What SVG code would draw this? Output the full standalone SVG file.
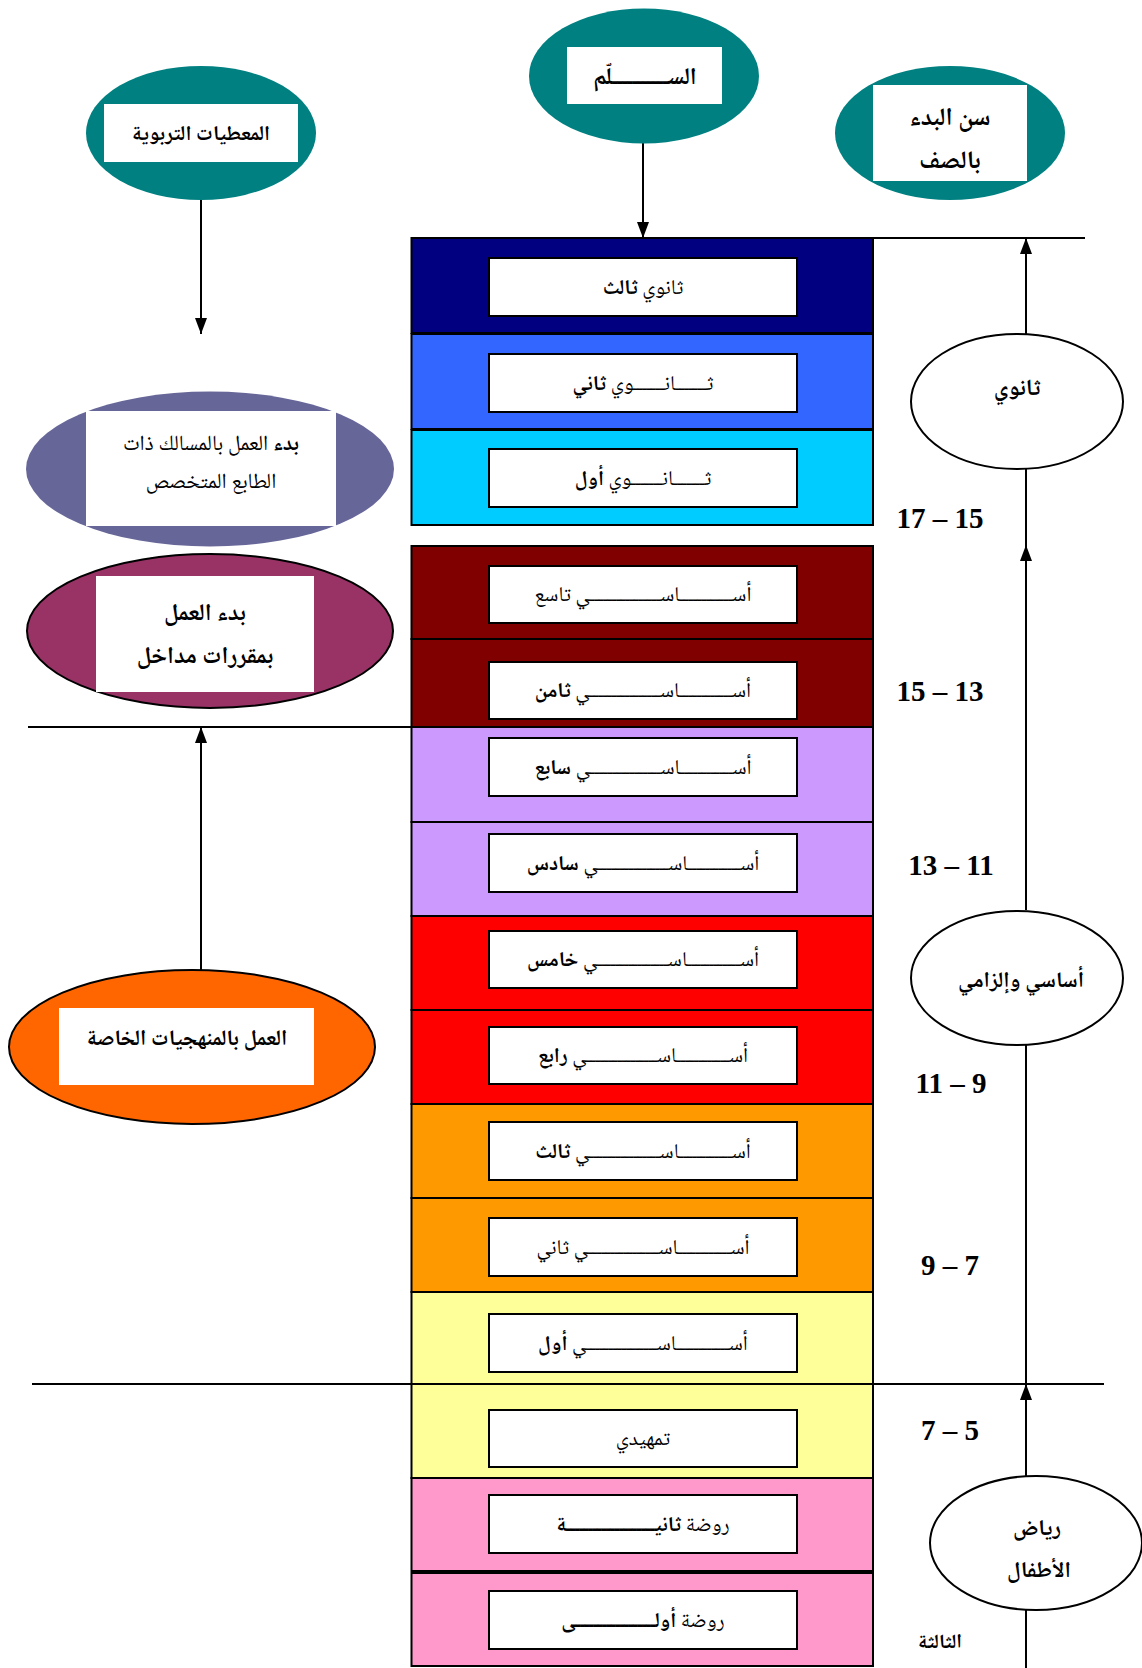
<svg xmlns="http://www.w3.org/2000/svg" width="1142" height="1668" viewBox="0 0 1142 1668">
<style>
.row{stroke:#000;stroke-width:2}
.box{fill:#fff;stroke:#000;stroke-width:2}
.wb{fill:#fff}
.ar{font-family:"Noto Naskh Arabic","Noto Sans Arabic","DejaVu Sans",sans-serif;font-size:20px;text-anchor:middle;fill:#000}
.lt{font-size:21px}
.b{font-weight:bold}
.num{font-family:"Liberation Serif",serif;font-weight:bold;font-size:29px;text-anchor:middle;fill:#000}
.ln{stroke:#000;stroke-width:2;fill:none}
.circ{fill:#fff;stroke:#000;stroke-width:2}
</style>
<defs>
<marker id="ah" markerUnits="userSpaceOnUse" markerWidth="16" markerHeight="12" refX="16" refY="6" orient="auto"><path d="M0,0 L16,6 L0,12 z" fill="#000"/></marker>
</defs>
<rect width="1142" height="1668" fill="#fff"/>

<g id="connectors">
<path class="ln" d="M411,238 L1085,238"/>
<path class="ln" d="M28,727 L411,727"/>
<path class="ln" d="M32,1384 L1104,1384"/>
<path class="ln" d="M201,200 L201,334" marker-end="url(#ah)"/>
<path class="ln" d="M643,143 L643,238" marker-end="url(#ah)"/>
<path class="ln" d="M201,970 L201,727" marker-end="url(#ah)"/>
<path class="ln" d="M1026,334 L1026,238" marker-end="url(#ah)"/>
<path class="ln" d="M1026,910 L1026,545" marker-end="url(#ah)"/>
<path class="ln" d="M1026,545 L1026,469"/>
<path class="ln" d="M1026,1476 L1026,1384" marker-end="url(#ah)"/>
<path class="ln" d="M1026,1384 L1026,1044"/>
<path class="ln" d="M1026,1610 L1026,1668"/>
</g>

<g id="n-muatayat">
<ellipse cx="201" cy="133" rx="115" ry="67" fill="#008080"/>
<rect class="wb" x="104" y="104" width="194" height="58"/>
<text class="ar b" x="201" y="140" style="font-size:21px">المعطيات التربوية</text>
</g>
<g id="n-sullam">
<ellipse cx="644" cy="76" rx="115" ry="67.5" fill="#008080"/>
<rect class="wb" x="567" y="47" width="155" height="57"/>
<text class="ar b" x="645" y="84" style="font-size:24px">الســـــــــــلّم</text>
</g>
<g id="n-sin">
<ellipse cx="950" cy="133" rx="115" ry="67" fill="#008080"/>
<rect class="wb" x="873" y="85" width="154" height="96"/>
<text class="ar b" x="950" y="125" style="font-size:25px">سن البدء</text>
<text class="ar b" x="950" y="168" style="font-size:25px">بالصف</text>
</g>

<g id="n-masalik">
<ellipse cx="210" cy="469" rx="184" ry="77.5" fill="#666699"/>
<rect class="wb" x="86" y="411" width="250" height="115"/>
<text class="ar" x="211" y="450" style="font-size:21.5px"><tspan class="b">بدء</tspan> العمل بالمسالك ذات</text>
<text class="ar" x="211" y="488" style="font-size:21.5px">الطابع المتخصص</text>
</g>
<g id="n-muqararat">
<ellipse cx="210" cy="631" rx="183" ry="77" fill="#993366" stroke="#000" stroke-width="2"/>
<rect class="wb" x="96" y="576" width="218" height="116"/>
<text class="ar b" x="205" y="620" style="font-size:24px">بدء العمل</text>
<text class="ar b" x="205" y="663" style="font-size:24px">بمقررات مداخل</text>
</g>
<g id="n-manhajiyat">
<ellipse cx="192" cy="1047" rx="183" ry="77" fill="#FF6600" stroke="#000" stroke-width="2"/>
<rect class="wb" x="59" y="1008" width="255" height="77"/>
<text class="ar b" x="187" y="1045" style="font-size:22px">العمل بالمنهجيات الخاصة</text>
</g>

<g id="ladder">
<g id="r1"><rect class="row" x="411.5" y="238" width="461.5" height="95" fill="#000080"/><rect class="box" x="489" y="258" width="308" height="58"/><text class="ar lt" x="643" y="294">ثانوي <tspan class="b">ثالث</tspan></text></g>
<g id="r2"><rect class="row" x="411.5" y="334" width="461.5" height="95" fill="#3366FF"/><rect class="box" x="489" y="354" width="308" height="58"/><text class="ar lt" x="643" y="390">ثـــــــانـــــــوي <tspan class="b">ثاني</tspan></text></g>
<g id="r3"><rect class="row" x="411.5" y="430" width="461.5" height="95" fill="#00CCFF"/><rect class="box" x="489" y="449" width="308" height="58"/><text class="ar lt" x="643" y="485">ثـــــــانـــــــوي <tspan class="b">أول</tspan></text></g>
<g id="r4"><rect class="row" x="411.5" y="546" width="461.5" height="93" fill="#800000"/><rect class="box" x="489" y="566" width="308" height="57"/><text class="ar lt" x="643" y="601">أســــــــــــاســــــــــــــــي تاسع</text></g>
<g id="r5"><rect class="row" x="411.5" y="639" width="461.5" height="88" fill="#800000"/><rect class="box" x="489" y="662" width="308" height="57"/><text class="ar lt" x="643" y="697">أســــــــــــاســــــــــــــــي <tspan class="b">ثامن</tspan></text></g>
<g id="r6"><rect class="row" x="411.5" y="727" width="461.5" height="95" fill="#CC99FF"/><rect class="box" x="489" y="738" width="308" height="58"/><text class="ar lt" x="643" y="774">أســــــــــــاســــــــــــــــي <tspan class="b">سابع</tspan></text></g>
<g id="r7"><rect class="row" x="411.5" y="822" width="461.5" height="94" fill="#CC99FF"/><rect class="box" x="489" y="834" width="308" height="58"/><text class="ar lt" x="643" y="870">أســــــــــــاســــــــــــــــي <tspan class="b">سادس</tspan></text></g>
<g id="r8"><rect class="row" x="411.5" y="916" width="461.5" height="94" fill="#FF0000"/><rect class="box" x="489" y="931" width="308" height="57"/><text class="ar lt" x="643" y="966">أســــــــــــاســــــــــــــــي <tspan class="b">خامس</tspan></text></g>
<g id="r9"><rect class="row" x="411.5" y="1010" width="461.5" height="94" fill="#FF0000"/><rect class="box" x="489" y="1027" width="308" height="57"/><text class="ar lt" x="643" y="1062">أســــــــــــاســــــــــــــــي <tspan class="b">رابع</tspan></text></g>
<g id="r10"><rect class="row" x="411.5" y="1104" width="461.5" height="94" fill="#FF9900"/><rect class="box" x="489" y="1122" width="308" height="58"/><text class="ar lt" x="643" y="1158">أســــــــــــاســــــــــــــــي <tspan class="b">ثالث</tspan></text></g>
<g id="r11"><rect class="row" x="411.5" y="1198" width="461.5" height="94" fill="#FF9900"/><rect class="box" x="489" y="1218" width="308" height="58"/><text class="ar lt" x="643" y="1254">أســــــــــــاســــــــــــــــي ثاني</text></g>
<g id="r12"><rect class="row" x="411.5" y="1292" width="461.5" height="92" fill="#FFFF99"/><rect class="box" x="489" y="1314" width="308" height="58"/><text class="ar lt" x="643" y="1350">أســــــــــــاســــــــــــــــي <tspan class="b">أول</tspan></text></g>
<g id="r13"><rect class="row" x="411.5" y="1384" width="461.5" height="94" fill="#FFFF99"/><rect class="box" x="489" y="1410" width="308" height="57"/><text class="ar lt" x="643" y="1445">تمهيدي</text></g>
<g id="r14"><rect class="row" x="411.5" y="1478" width="461.5" height="93" fill="#FF99CC"/><rect class="box" x="489" y="1495" width="308" height="58"/><text class="ar lt" x="643" y="1531">روضة <tspan class="b">ثانيــــــــــــــــــــة</tspan></text></g>
<g id="r15"><rect class="row" x="411.5" y="1573" width="461.5" height="93" fill="#FF99CC"/><rect class="box" x="489" y="1591" width="308" height="58"/><text class="ar lt" x="643" y="1627">روضة <tspan class="b">أولــــــــــــــــــى</tspan></text></g>
</g>

<g id="n-thanawi">
<ellipse class="circ" cx="1017" cy="401.5" rx="106" ry="67.5"/>
<text class="ar b" x="1017" y="395" style="font-size:23px">ثانوي</text>
</g>
<g id="n-asasi">
<ellipse class="circ" cx="1017" cy="978" rx="106" ry="67"/>
<text class="ar b" x="1021" y="987" style="font-size:22px">أساسي وإلزامي</text>
</g>
<g id="n-riyad">
<ellipse class="circ" cx="1036" cy="1543" rx="106" ry="67"/>
<text class="ar b" x="1037" y="1535" style="font-size:22.5px">رياض</text>
<text class="ar b" x="1039" y="1577" style="font-size:22.5px">الأطفال</text>
</g>

<g id="ages">
<text class="num" x="940" y="528">17 – 15</text>
<text class="num" x="940" y="701">15 – 13</text>
<text class="num" x="951" y="875">13 – 11</text>
<text class="num" x="951" y="1093">11 – 9</text>
<text class="num" x="950" y="1275">9 – 7</text>
<text class="num" x="950" y="1440">7 – 5</text>
<text class="ar b" x="940" y="1648">الثالثة</text>
</g>
</svg>
